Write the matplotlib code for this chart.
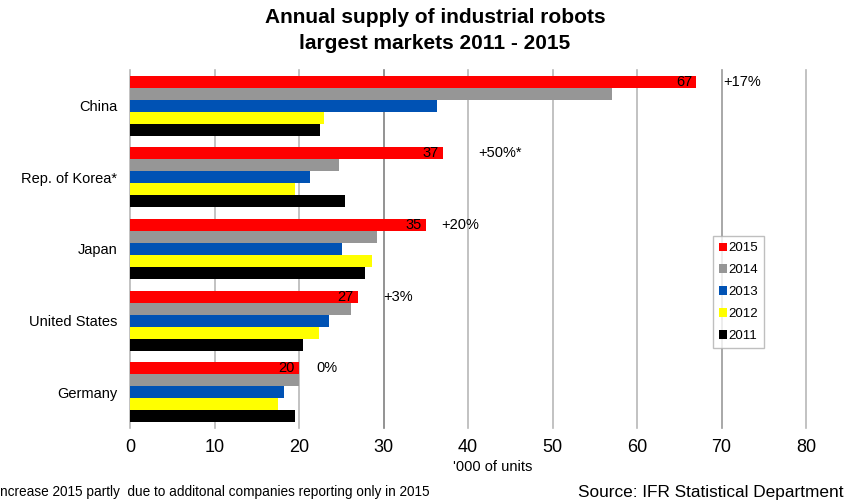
import matplotlib.pyplot as plt
import numpy as np

plt.rcParams['font.family'] = ['Liberation Sans', 'DejaVu Sans']

# thousands of units, one list per year
countries = ['China', 'Rep. of Korea*', 'Japan', 'United States', 'Germany']
years = ['2015', '2014', '2013', '2012', '2011']
supply = {
    '2015': [67, 37, 35, 27, 20],
    '2014': [57, 24.7, 29.2, 26.1, 20],
    '2013': [36.3, 21.3, 25.1, 23.6, 18.2],
    '2012': [22.9, 19.5, 28.6, 22.4, 17.5],
    '2011': [22.5, 25.5, 27.8, 20.5, 19.5],
}
growth = ['+17%', '+50%*', '+20%', '+3%', '0%']
growth_x = [70.2, 41.2, 36.8, 30.0, 22.0]
ticks = [0, 10, 20, 30, 40, 50, 60, 70, 80]

colors = {'2015': '#ff0000', '2014': '#969696', '2013': '#0052b4',
          '2012': '#ffff00', '2011': '#000000'}

fig = plt.figure(figsize=(8.48, 5.03), dpi=100)
ax = fig.add_axes([0.1533, 0.149, 0.7972, 0.712])

# vertical grid drawn by hand so the 0 and 80 lines are not clipped
grid_colors = {30: '#808080', 70: '#999999'}
for t in ticks:
    ax.axvline(t, color=grid_colors.get(t, '#b8b8b8'), lw=1.2, zorder=0, clip_on=False)

h = 0.168
y = np.arange(len(countries))
for j, yr in enumerate(years):
    ax.barh(y + (j - 2) * h, supply[yr], height=h, color=colors[yr],
            label=yr, zorder=2)

# value of 2015 inside the red bar, growth rate next to it
for i, v in enumerate(supply['2015']):
    ax.annotate(f'{v:g}', (v, y[i] - 2 * h), xytext=(-3, 0), textcoords='offset points',
                ha='right', va='center', fontsize=10.5, zorder=3)
    ax.text(growth_x[i], y[i] - 2 * h, growth[i], ha='left', va='center', fontsize=10.5)

ax.set_xlim(0, 80)
ax.set_ylim(len(countries) - 0.5, -0.5)
ax.set_xticks(ticks)
ax.set_yticks(y)
ax.set_yticklabels(countries, fontsize=10.5)
ax.tick_params(axis='x', length=0, pad=8, labelsize=13)
ax.tick_params(axis='y', length=0, pad=9)
for s in ax.spines.values():
    s.set_visible(False)

leg = ax.legend(loc='upper left', bbox_to_anchor=(0.862, 0.535), fontsize=9.5,
                handlelength=0.6, handleheight=0.6, handletextpad=0.15,
                labelspacing=0.75, borderpad=0.45, frameon=True, fancybox=False,
                borderaxespad=0)
leg.get_frame().set_edgecolor('#b0b0b0')
leg.get_frame().set_linewidth(1.0)

fig.text(0.513, 0.965, 'Annual supply of industrial robots', ha='center', va='center',
         fontsize=15, fontweight='bold')
fig.text(0.513, 0.913, 'largest markets 2011 - 2015', ha='center', va='center',
         fontsize=15, fontweight='bold')
fig.text(0.581, 0.071, "'000 of units", ha='center', va='center', fontsize=10.5)
fig.text(0.0, 0.022, 'ncrease 2015 partly  due to additonal companies reporting only in 2015',
         ha='left', va='center', fontsize=9.8)
fig.text(0.995, 0.02, 'Source: IFR Statistical Department', ha='right', va='center',
         fontsize=12.4)

fig.savefig('out.png', dpi=100)
